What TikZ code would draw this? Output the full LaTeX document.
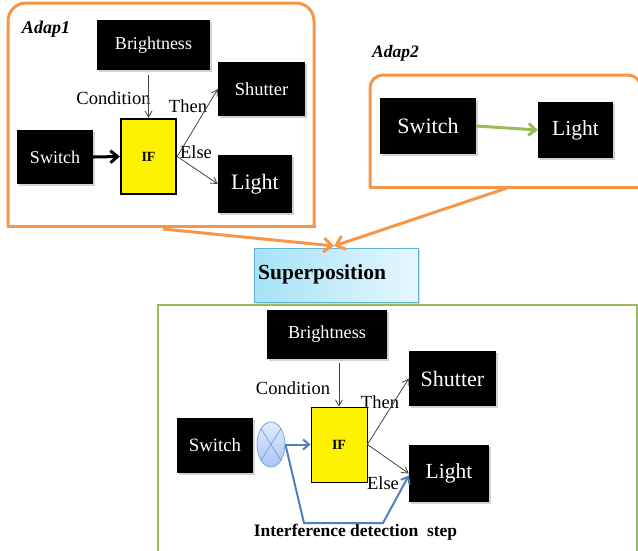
\documentclass[tikz,border=0pt]{standalone}
\usepackage{fontspec}
\setmainfont{Liberation Serif}
\usetikzlibrary{arrows.meta,shadows,calc,shapes.geometric}
\definecolor{orng}{RGB}{247,150,70}
\definecolor{grn}{RGB}{155,187,89}
\definecolor{blu}{RGB}{79,129,189}
\definecolor{ltbluL}{RGB}{165,226,247}
\definecolor{ltbluR}{RGB}{230,247,253}
\definecolor{supbrd}{RGB}{95,180,210}
\definecolor{ellin}{RGB}{225,236,252}
\definecolor{ellout}{RGB}{170,198,242}
\definecolor{ellbrd}{RGB}{130,162,215}
\definecolor{gry}{RGB}{70,70,70}
\newcommand{\fs}[1]{\fontsize{#1}{#1}\selectfont}
\tikzset{
  blk/.style={fill=black, text=white, inner sep=0pt, anchor=center,
    drop shadow={opacity=0.35, shadow xshift=1.5pt, shadow yshift=-1.5pt}},
  ifbox/.style={fill=yellow, draw=black, inner sep=0pt, font=\bfseries\fs{14}},
  lbl/.style={inner sep=0pt, font=\fs{18.5}},
  thin arrow/.style={draw=gry, line width=0.8pt, -{Straight Barb[length=6pt,width=7pt]}},
  org arrow/.style={draw=orng, line width=3pt, -{Straight Barb[length=8pt,width=14pt]}},
}
\begin{document}
\begin{tikzpicture}[x=1pt,y=-1pt]
\useasboundingbox (0,0) rectangle (638,550);
\fill[white] (0,0) rectangle (638,550);

% Adap1 frame
\draw[orng, line width=3pt, rounded corners=18pt] (8,226) -- (8,3) -- (314,3) -- (314,226);
\draw[orng, line width=3pt, line cap=rect] (8,226) -- (314,226);
\node[inner sep=0pt, font=\bfseries\itshape\fs{18}] (a1) at (46,29) {Adap1};

\node[blk, minimum width=113pt, minimum height=50pt, font=\fs{18}] (bri1) at (153.5,45) {Brightness};
\node[blk, minimum width=87pt, minimum height=54pt, font=\fs{18.5}] (shu1) at (261.5,89) {Shutter};
\node[blk, minimum width=76pt, minimum height=54pt, font=\fs{18}] (sw1) at (55,157) {Switch};
\node[ifbox, line width=2.5pt, minimum width=55pt, minimum height=75pt] (if1) at (148.5,156.5) {IF};
\node[blk, minimum width=74pt, minimum height=58pt, font=\fs{22}] (li1) at (255,184) {Light};

\node[lbl] (c1) at (113.5,98) {Condition};
\node[lbl] (t1) at (188,106) {Then};
\node[lbl] (e1) at (196,152) {Else};

\draw[thin arrow, shorten <=5pt] (if1.north |- bri1.south) -- (if1.north);
\draw[thin arrow] (if1.east) -- (shu1.west);
\draw[thin arrow] (if1.east) -- (li1.west);
\draw[black, line width=3pt, -{Straight Barb[length=7pt,width=12pt]}] (sw1.east) -- (if1.west);

% Adap2 frame
\node[inner sep=0pt, font=\bfseries\itshape\fs{17.5}] (a2) at (395.5,53) {Adap2};
\draw[orng, line width=3pt, rounded corners=13pt] (370,187) -- (370,75) -- (641,75) -- (641,200);
\draw[orng, line width=3pt, line cap=rect] (370,187) -- (645,187);
\node[blk, minimum width=96pt, minimum height=56pt, font=\fs{22}] (sw2) at (428,126) {Switch};
\node[blk, minimum width=75pt, minimum height=56pt, font=\fs{21.5}] (li2) at (575.5,130) {Light};
\draw[grn, line width=3pt, -{Straight Barb[length=7pt,width=12pt]}] (sw2.east) -- (li2.west);

% Superposition
\node[draw=supbrd, line width=0.8pt, left color=ltbluL, right color=ltbluR, minimum width=164pt, minimum height=54pt, inner sep=0pt,
  drop shadow={opacity=0.3, shadow xshift=1.5pt, shadow yshift=-1.5pt}] (sup) at (336,275) {};
\node[inner sep=0pt, font=\bfseries\fs{21.5}, anchor=west] (suptxt) at (258,274) {Superposition};

\coordinate (o1) at (163,229);
\coordinate (o2) at (507,188);
\coordinate (otip) at (334,246);
\draw[org arrow] (o1) -- (otip);
\draw[org arrow] (o2) -- (otip);

% Green frame
\draw[grn, line width=2.5pt] (158,560) -- (158,305) -- (637,305) -- (637,560);

\node[blk, minimum width=120pt, minimum height=49pt, font=\fs{18.2}] (bri2) at (327,334.5) {Brightness};
\node[blk, minimum width=87pt, minimum height=55pt, font=\fs{22}] (shu2) at (452.5,378.5) {Shutter};
\node[blk, minimum width=76pt, minimum height=55pt, font=\fs{18.8}] (sw3) at (215,445.5) {Switch};
\node[ifbox, line width=0.8pt, minimum width=56pt, minimum height=75pt] (if2) at (339,444.5) {IF};
\node[blk, minimum width=80pt, minimum height=57pt, font=\fs{21.5}] (li3) at (449,473.5) {Light};

\node[ellipse, draw=ellbrd, line width=0.8pt, top color=ellin, bottom color=ellout, minimum width=28pt, minimum height=45pt, inner sep=0pt] (ell) at (271,444.5) {};
\draw[ellbrd, line width=0.8pt] (ell.north west) -- (ell.south east);
\draw[ellbrd, line width=0.8pt] (ell.north east) -- (ell.south west);

\node[lbl] (c2) at (293,388) {Condition};
\node[lbl] (t2) at (380,402) {Then};
\node[lbl] (e2) at (383,483) {Else};
\node[inner sep=0pt, font=\bfseries\fs{17.5}] (ids) at (355.5,532) {Interference detection\ \ step};

\draw[thin arrow, shorten <=4pt] (if2.north |- bri2.south) -- (if2.north);
\draw[thin arrow] (if2.east) -- (shu2.west);
\draw[thin arrow] (if2.east) -- (li3.west);

\coordinate (b1) at (304,523);
\coordinate (b2) at (383,523);
\draw[blu, line width=2pt, -{Straight Barb[length=6pt,width=10pt]}] (ell.east) -- (if2.west);
\draw[blu, line width=2pt, -{Straight Barb[length=6pt,width=10pt]}] (ell.east) -- (b1) -- (b2) -- ([yshift=-2pt]li3.west);
\end{tikzpicture}
\end{document}
